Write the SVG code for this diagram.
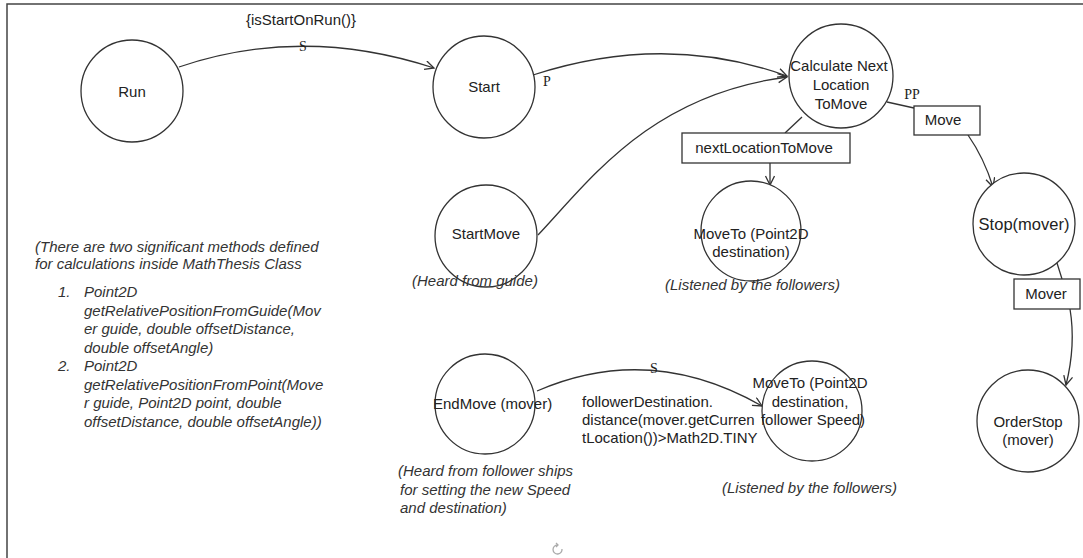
<svg xmlns="http://www.w3.org/2000/svg" width="1083" height="558" viewBox="0 0 1083 558">
<style>
.node{fill:#fff;stroke:#333;stroke-width:1.3}
.box{fill:#fff;stroke:#333;stroke-width:1.3}
.edge{fill:none;stroke:#333;stroke-width:1.3}
.t{font-family:"Liberation Sans",Arial,sans-serif;font-size:15px;fill:#222;text-anchor:middle}
.tl{font-family:"Liberation Sans",Arial,sans-serif;font-size:15px;fill:#222}
.it{font-family:"Liberation Sans",Arial,sans-serif;font-size:15px;font-style:italic;fill:#333}
.lbl{font-family:"Liberation Serif","Times New Roman",serif;font-size:14px;fill:#222}
</style>
<defs>
<marker id="arr" markerWidth="12" markerHeight="12" refX="10" refY="5" orient="auto" markerUnits="userSpaceOnUse">
<path d="M1,0.5 L10,5 L1,9.5" fill="none" stroke="#333" stroke-width="1.3"/>
</marker>
</defs>
<rect x="0" y="0" width="1083" height="558" fill="#fff"/>
<path d="M7,562 L7,4 L1090,4" fill="none" stroke="#444" stroke-width="1.5"/>

<g id="connectors">
<path class="edge" d="M179,67 Q303,25 434,68" marker-end="url(#arr)"/>
<path class="edge" d="M533,75 Q665,32 787,76" marker-end="url(#arr)"/>
<path class="edge" d="M538,235 C590,180 650,95 787,77" marker-end="url(#arr)"/>
<path class="edge" d="M887,102 L914,108"/>
<path class="edge" d="M802,117 L785,133"/>
<path class="edge" d="M770,163 L770,185" marker-end="url(#arr)"/>
<path class="edge" d="M968,135 Q984,158 993,187" marker-end="url(#arr)"/>
<path class="edge" d="M1057,263 L1062,279"/>
<path class="edge" d="M1070,309 Q1076,345 1066,385" marker-end="url(#arr)"/>
<path class="edge" d="M537,391 Q650,342 762,406" marker-end="url(#arr)"/>
<text class="lbl" x="303" y="51" text-anchor="middle">S</text>
<text class="lbl" x="547" y="86" text-anchor="middle">P</text>
<text class="lbl" x="912" y="99" text-anchor="middle">PP</text>
<text class="lbl" x="654" y="373" text-anchor="middle">S</text>
<text class="t" x="301" y="25">{isStartOnRun()}</text>
<text class="tl" x="582" y="407">followerDestination.</text>
<text class="tl" x="582" y="425">distance(mover.getCurren</text>
<text class="tl" x="582" y="443">tLocation())&gt;Math2D.TINY</text>
</g>

<g id="run">
<circle class="node" cx="132" cy="91" r="51"/>
<text class="t" x="132" y="97">Run</text>
</g>
<g id="start">
<circle class="node" cx="484" cy="87" r="51"/>
<text class="t" x="484" y="92">Start</text>
</g>
<g id="calc">
<circle class="node" cx="841" cy="76" r="52"/>
<text class="t" x="839" y="71">Calculate Next</text>
<text class="t" x="841" y="90">Location</text>
<text class="t" x="841" y="109">ToMove</text>
</g>
<g id="nextLocationToMove">
<rect class="box" x="682" y="133" width="168" height="30"/>
<text class="t" x="764" y="153">nextLocationToMove</text>
</g>
<g id="move">
<rect class="box" x="914" y="106" width="66" height="29"/>
<text class="t" x="943" y="125">Move</text>
</g>
<g id="startMove">
<circle class="node" cx="486" cy="236" r="51"/>
<text class="t" x="486" y="239">StartMove</text>
<text class="it" x="412" y="286">(Heard from guide)</text>
</g>
<g id="moveTo1">
<circle class="node" cx="751" cy="231" r="50"/>
<text class="t" x="751" y="239">MoveTo (Point2D</text>
<text class="t" x="751" y="257">destination)</text>
<text class="it" x="665" y="290">(Listened by the followers)</text>
</g>
<g id="stop">
<circle class="node" cx="1024" cy="224" r="51"/>
<text class="t" x="1024" y="230" style="font-size:16.5px">Stop(mover)</text>
</g>
<g id="mover">
<rect class="box" x="1014" y="279" width="66" height="30"/>
<text class="t" x="1046" y="299">Mover</text>
</g>
<g id="orderStop">
<circle class="node" cx="1028" cy="421" r="51"/>
<text class="t" x="1028" y="427">OrderStop</text>
<text class="t" x="1028" y="445">(mover)</text>
</g>
<g id="endMove">
<circle class="node" cx="485" cy="404" r="50"/>
<text class="tl" x="433" y="409">EndMove (mover)</text>
<text class="it" x="398" y="476">(Heard from follower ships</text>
<text class="it" x="400" y="495">for setting the new Speed</text>
<text class="it" x="400" y="513">and destination)</text>
</g>
<g id="moveTo2">
<circle class="node" cx="812" cy="411" r="50"/>
<text class="t" x="810" y="388">MoveTo (Point2D</text>
<text class="t" x="810" y="407">destination,</text>
<text class="t" x="813" y="425">follower Speed)</text>
<text class="it" x="722" y="493">(Listened by the followers)</text>
</g>
<g id="note">
<text class="it" x="35" y="252">(There are two significant methods defined</text>
<text class="it" x="35" y="269">for calculations inside MathThesis Class</text>
<text class="it" x="58" y="297">1.</text>
<text class="it" x="84" y="297">Point2D</text>
<text class="it" x="84" y="315.5">getRelativePositionFromGuide(Mov</text>
<text class="it" x="84" y="334">er guide, double offsetDistance,</text>
<text class="it" x="84" y="352.5">double offsetAngle)</text>
<text class="it" x="58" y="371">2.</text>
<text class="it" x="84" y="371">Point2D</text>
<text class="it" x="84" y="389.5">getRelativePositionFromPoint(Move</text>
<text class="it" x="84" y="408">r guide, Point2D point, double</text>
<text class="it" x="84" y="426.5">offsetDistance, double offsetAngle))</text>
</g>
<g id="rotate-icon" fill="none" stroke="#aaa" stroke-width="1.3">
<path d="M562,549 A4.5,4.5 0 1 1 557.5,545"/>
<path d="M556,543 L558,545 L556,547"/>
</g>
</svg>
